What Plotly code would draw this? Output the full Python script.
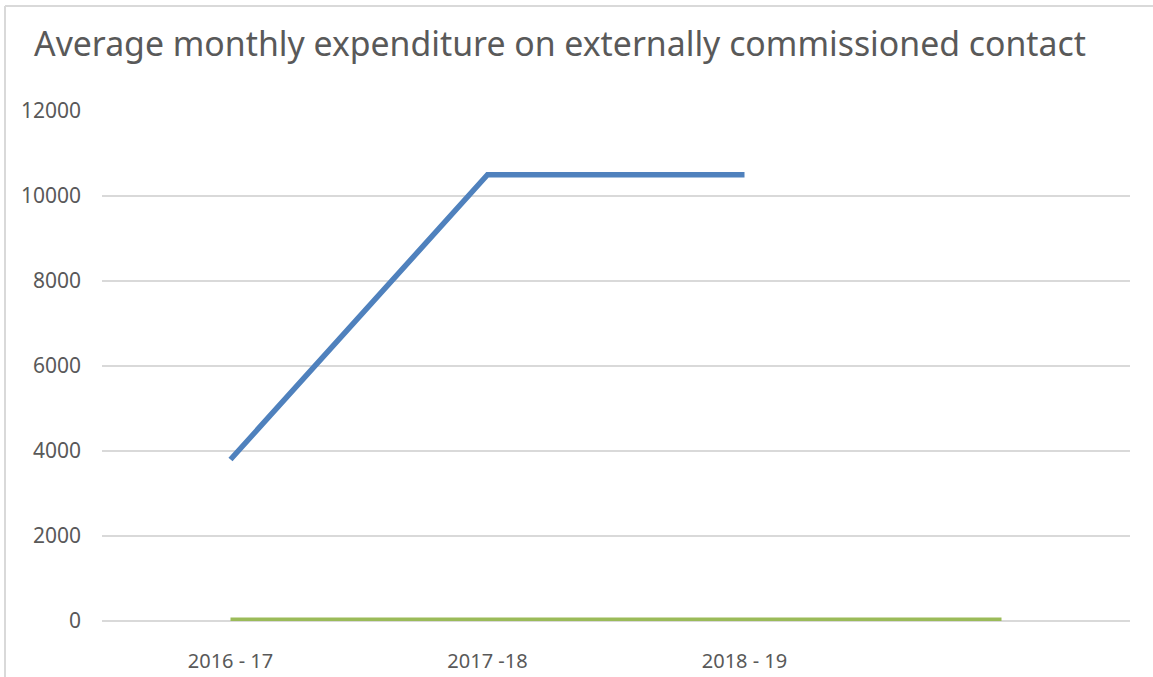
import plotly.graph_objects as go

categories = ["2016 - 17", "2017 -18", "2018 - 19", ""]
series_blue = [3800, 10500, 10500, None]
series_green = [40, 40, 40, 40]
y_ticks = [0, 2000, 4000, 6000, 8000, 10000, 12000]
y_tick_labels = [str(v) for v in y_ticks]
title_text = "Average monthly expenditure on externally commissioned contact"

W, H = 1153, 677
ML, MR, MT, MB = 102, 23, 111, 56
pw, ph = W - ML - MR, H - MT - MB

xs = list(range(len(categories)))

fig = go.Figure()
fig.add_trace(go.Scatter(x=xs, y=series_green, mode="lines",
                         line=dict(color="#9bbb59", width=3.5), showlegend=False))
fig.add_trace(go.Scatter(x=xs, y=series_blue, mode="lines",
                         line=dict(color="#4f81bd", width=5.5), showlegend=False))

def px_x(p):
    return (p - ML) / pw

def px_y(p):
    return (H - MB - p) / ph

fig.add_shape(type="line", xref="paper", yref="paper",
              x0=px_x(5), x1=px_x(1160), y0=px_y(6), y1=px_y(6),
              line=dict(color="#d9d9d9", width=2))
fig.add_shape(type="line", xref="paper", yref="paper",
              x0=px_x(5), x1=px_x(5), y0=px_y(6), y1=px_y(690),
              line=dict(color="#d9d9d9", width=2))

fig.update_layout(
    width=W, height=H,
    margin=dict(l=ML, r=MR, t=MT, b=MB, autoexpand=False),
    paper_bgcolor="white", plot_bgcolor="white",
    font=dict(family="Noto Sans", color="#595959"),
    title=dict(text=title_text, x=560 / W, xanchor="center", xref="container",
               y=1 - 44 / H, yanchor="middle", yref="container",
               font=dict(size=33.8, color="#595959", family="Noto Sans")),
    xaxis=dict(range=[-0.5, len(categories) - 0.5], tickvals=xs, ticktext=categories,
               showgrid=False, zeroline=False, showline=False, automargin=False,
               tickfont=dict(size=20, color="#595959"), ticklabelstandoff=26),
    yaxis=dict(range=[0, 12000], tickvals=y_ticks, ticktext=y_tick_labels,
               showgrid=True, gridcolor="#d9d9d9", gridwidth=2,
               zeroline=True, zerolinecolor="#d9d9d9", zerolinewidth=2,
               showline=False, automargin=False,
               tickfont=dict(size=21, color="#595959"), ticklabelstandoff=20),
)

fig.write_html("out.html")
